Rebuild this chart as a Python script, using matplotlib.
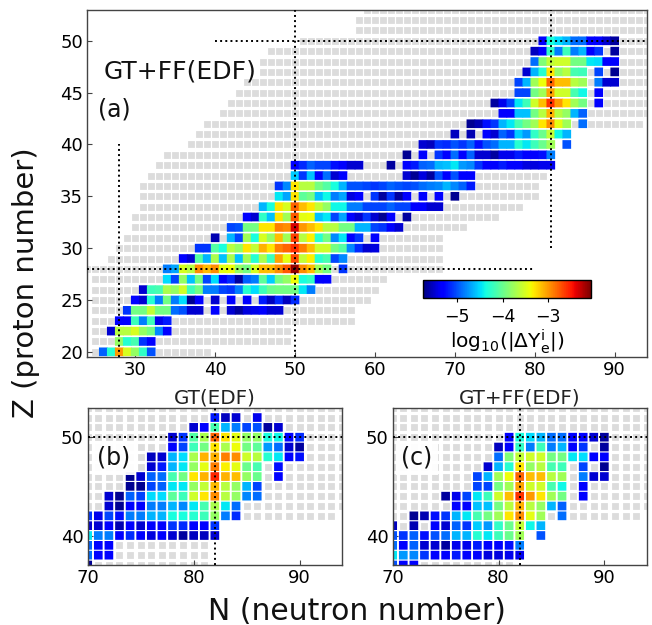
import numpy as np
import matplotlib
matplotlib.use("Agg")
import matplotlib.pyplot as plt

nan = np.nan
W, H = 652, 625

# gray background nuclei: Z, first N, last N
GRAY_Z = list(range(20, 54))
GRAY_NMIN = [25, 25, 25, 25, 25, 25, 25, 25, 24, 27, 28, 29, 30, 30, 31, 31, 31, 32, 33, 34,
             37, 38, 39, 41, 42, 43, 44, 46, 46, 47, 51, 58, 58, 59]
GRAY_NMAX = [39, 49, 49, 57, 57, 59, 60, 61, 68, 68, 68, 68, 71, 75, 78, 80, 80, 81, 81, 81,
             82, 82, 93, 94, 94, 94, 94, 94, 94, 94, 94, 94, 94, 94]

# log10(|dYe|) per Z row, first value belongs to the listed N
EDF_Z = list(range(20, 51))
EDF_NSTART = [26, 28, 27, 28, 29, 30, 31, 34, 34, 36, 38, 40, 42, 44, 46, 48, 48, 50, 50, 64,
              66, 70, 72, 76, 75, 78, 78, 79, 80, 80, 81]
EDF_LOG = [
    [-4.95, -4.3, -3.0, -3.5, -3.8, -4.25, -5.0],
    [-3.8, -4.3, -4.15, -5.1, -5.3],
    [-5.5, -3.65, -3.65, -3.5, -3.8, -3.95, -4.8, -5.3],
    [-5.3, -5.3, -4.2, -4.85, -4.2, -5.4, -5.2],
    [-5.1, -3.95, -3.95, -3.6, -3.95, -3.95, -4.9, -5.0, -5.5, -5.5, nan, -5.3, nan, -5.5, -5.65, -5.45, -5.4, -5.3, -5.5, -5.5],
    [-5.3, -5.5, -4.3, -4.85, -3.95, -4.85, -4.5, -5.7, -5.3, nan, -5.5, nan, -5.3, nan, -5.3, nan, -5.2, -5.55, -5.15, -5.55, -5.15],
    [-5.5, -4.2, -4.15, -3.7, -3.8, -3.55, -4.2, -3.95, -4.85, -4.85, -5.05, -5.1, -4.85, -4.3, -4.5, -4.2, -4.0, -3.95, -3.95, -3.95, -4.45, -4.85],
    [-4.5, -5.05, -3.8, -4.6, -3.95, -5.05, -4.5, -5.3, -5.15, -5.65, -4.95, -4.85, -4.05, -4.55, -3.95, -3.8, -3.4, -4.35, -4.25, -5.3, -5.3],
    [-4.85, -4.7, -3.5, -3.65, -2.95, -3.15, -2.95, -3.45, -3.4, -3.8, -3.95, -3.5, -3.15, -3.15, -2.95, -2.75, -2.15, -2.95, -3.15, -3.75, -3.95, nan, -5.1],
    [-5.3, -5.5, -4.1, -4.65, -3.7, -4.6, -3.7, -4.6, -3.75, -4.3, -3.7, -4.2, -3.05, -3.45, -2.7, -3.6, -3.35, -4.3, -4.15, -5.05, -4.8],
    [-5.1, -5.1, -4.1, -4.35, -3.65, -3.8, -3.3, -3.6, -3.1, -3.3, -2.9, -2.8, -2.6, -2.9, -3.15, -3.55, -3.55, -3.95, -4.1, -4.8, -5.15, -5.5, -5.45],
    [-5.6, nan, -4.65, -5.05, -3.75, -4.35, -3.5, -3.8, -3.15, -3.75, -2.65, -3.65, -3.35, -4.3, -3.95, -4.8, -4.45, -5.3, -5.1, nan, -5.3],
    [-5.05, -5.0, -3.95, -3.95, -3.3, -3.3, -2.9, -2.95, -2.35, -3.0, -3.15, -3.3, -3.65, -3.65, -3.95, -3.95, -4.65, -4.65, -5.05, -5.1, -5.3, -5.5],
    [-5.3, -5.5, -4.25, -4.6, -3.3, -3.75, -2.75, -3.45, -3.4, -4.6, -4.45, -5.05, -4.7, -5.3, -5.5, -5.1, -5.5, -5.7, -5.3, nan, -5.65],
    [-4.65, -4.35, -3.3, -3.5, -2.8, -3.15, -3.3, -3.6, -3.8, -4.4, -4.4, -4.85, -4.85, -5.05, -5.05, -5.05, -4.95, -5.05, -5.05, -5.3, -5.3, -5.5, -5.5],
    [-4.45, -4.7, -3.3, -4.05, -3.95, -4.6, -4.4, -4.85, -4.7, -5.45, -5.3, nan, -5.1, -5.65, -5.1, -5.65, -5.35, nan, -5.3, nan, -5.3, nan, -5.7],
    [-5.1, -4.8, -3.3, -3.65, -3.65, -3.95, -4.1, -4.35, -4.65, -5.0, -5.0, -5.05, -5.1, -5.05, -4.95, -5.0, -5.05, -5.0, -4.9, -4.85, -4.8, -4.65, -4.8, -4.95, -5.2],
    [-4.55, -5.1, -4.6, -5.3, -4.9, -5.5, -5.3, nan, nan, nan, nan, nan, nan, nan, -5.5, -5.7, -5.45, -5.65, -5.0, -5.3, -5.0, -5.3, -5.3],
    [-5.3, -5.15, -4.95, -5.05, -5.05, -5.25, -5.3, -5.5, -5.5, nan, nan, nan, -5.65, nan, -5.3, -5.2, -4.95, -4.9, -4.65, -4.6, -4.45, -4.75, -4.8, -5.1, -5.3, -5.3, -5.2, -5.3, -5.3, -5.45, -5.45, -5.4, -5.4],
    [-5.7, nan, -5.3, nan, -5.1, -5.3, -4.9, -5.3, -4.95, -5.5, -5.5, -5.65, -5.4, -5.4, -5.2, -5.35, -5.3, -5.25, -4.85],
    [-5.5, -5.55, -5.1, -5.15, -5.0, -5.1, -4.95, -5.25, -5.0, -4.9, -4.65, -4.65, -4.3, -4.45, -4.2, -4.0, -3.75, nan, -5.0],
    [-5.55, nan, -5.6, nan, -5.3, -5.5, -4.95, -5.1, -4.55, -4.75, -4.25, -4.0, -3.6, -4.4, -4.65],
    [-5.7, -5.6, -5.25, -5.1, -4.65, -4.45, -4.15, -3.95, -3.75, -3.3, -2.95, -3.45, -3.75, nan, -4.9],
    [-5.3, -5.3, -4.6, -4.6, -3.95, -3.65, -3.1, -3.65, -3.8, -4.65, -4.95],
    [-5.65, -5.4, -5.05, -4.45, -4.2, -3.55, -3.15, -2.6, -3.0, -3.3, -3.75, -3.95, nan, -5.3],
    [-5.05, -5.05, -3.95, -3.75, -3.05, -3.55, -3.55, -4.15, -4.4, nan, -5.3],
    [-5.05, -4.65, -3.75, -3.4, -2.8, -3.15, -3.15, -3.65, -3.75, nan, -4.85, -5.5, -5.5],
    [-5.5, -4.65, -4.3, -3.3, -3.8, -3.65, -4.15, -4.2, nan, -5.05, nan, -5.7],
    [-4.9, -3.9, -3.6, -3.55, -3.55, -3.95, -3.95, -4.45, -4.5, -5.3, -5.3],
    [-5.55, -5.3, -4.25, -4.85, -4.2, -4.85, -4.65, -5.3, -5.1, nan, -5.65],
    [-5.3, -4.35, -4.5, -4.65, -4.9, -4.9, -5.3, -5.35, -5.5, -5.65],
]

GT_Z = list(range(37, 53))
GT_NSTART = [70, 70, 70, 70, 70, 70, 72, 72, 74, 74, 76, 76, 78, 78, 80, 82]
GT_LOG = [
    [-5.7],
    [-4.9, -5.3, -5.3],
    [-4.95, -5.3, -5.3],
    [-4.45, -4.85, -4.85, -5.3, -5.15, -5.3, -5.45, -5.3, -5.5, -5.65, -5.55, -5.55, -5.5],
    [-5.5, -5.5, -5.3, -5.6, -5.3, -5.5, -5.3, -5.3, -5.1, -5.15, -5.3, -5.3, -5.1],
    [-5.1, -5.4, -5.05, -5.25, -4.85, -4.85, -4.65, -4.65, -4.35, -4.35, -4.3, -4.2, -3.8, -4.85, -5.15],
    [-5.5, -5.7, -5.3, -5.3, -4.85, -4.85, -4.65, -4.8, -4.45, -4.15, -3.7, -4.45, -4.9],
    [-5.5, -5.7, -4.95, -5.05, -4.5, -4.5, -4.05, -4.2, -3.55, -3.3, -2.95, -3.65, -3.8, -4.8, -4.9],
    [-5.7, -5.7, -5.05, -4.95, -4.45, -4.45, -3.8, -3.6, -3.15, -3.65, -3.8, -4.65, -5.05],
    [-5.7, -5.5, -4.95, -4.9, -4.15, -3.95, -3.3, -3.1, -2.55, -3.1, -3.15, -3.8, -4.0, nan, -5.35],
    [-5.5, -5.2, -4.65, -4.45, -3.8, -3.45, -2.9, -3.35, -3.45, -4.0, -4.15, nan, -5.25],
    [-5.55, -5.5, -4.65, -4.5, -3.7, -3.1, -3.1, -2.9, -2.95, -3.55, -3.65, -4.3, -4.45, -5.35, -5.25],
    [-5.3, -5.05, -4.2, -3.95, -3.3, -3.7, -3.4, -3.95, -4.05, -4.75, -4.9, -5.5, -5.65],
    [-5.5, -5.1, -4.1, -3.7, -2.8, -3.3, -3.45, -3.8, -3.8, -4.35, -4.4, -5.3, -5.15],
    [-5.5, -5.3, -4.15, -4.65, -4.85, -5.05, -5.0, -5.65, -5.5],
    [-5.2, -5.55, -5.5, nan, -5.4],
]

VMIN, VMAX = -5.76, -2.07
LINE = "#444444"


def px_axes(fig, left, top, right, bottom):
    return fig.add_axes([left / W, 1 - bottom / H, (right - left) / W, (bottom - top) / H])


def flatten(zs, starts, rows):
    n, z, v = [], [], []
    for zz, st, row in zip(zs, starts, rows):
        for i, val in enumerate(row):
            if not np.isnan(val):
                n.append(st + i)
                z.append(zz)
                v.append(val)
    return n, z, v


def draw_cells(ax, zs, starts, rows):
    gn, gz = [], []
    for zz, lo, hi in zip(GRAY_Z, GRAY_NMIN, GRAY_NMAX):
        for nn in range(lo, hi + 1):
            gn.append(nn)
            gz.append(zz)
    gray = ax.scatter(gn, gz, s=24, marker="s", color="#dcdcdc", linewidths=0, zorder=1)
    gray.set_snap(False)
    n, z, v = flatten(zs, starts, rows)
    cells = ax.scatter(n, z, c=v, s=39, marker="s", cmap="jet", vmin=VMIN, vmax=VMAX, linewidths=0, zorder=2)
    cells.set_snap(False)
    return cells


def style(ax):
    ax.tick_params(direction="in", length=3.5, width=0.8, color=LINE, labelsize=13, pad=3)
    for spine in ax.spines.values():
        spine.set_edgecolor(LINE)
        spine.set_linewidth(1.0)


plt.rcParams["font.family"] = "DejaVu Sans"
fig = plt.figure(figsize=(W / 100, H / 100), dpi=100)

# panel (a)
ax_a = px_axes(fig, 87.3, 9.7, 646.7, 357)
sc = draw_cells(ax_a, EDF_Z, EDF_NSTART, EDF_LOG)
ax_a.set_xlim(24, 94)
ax_a.set_ylim(19.5, 53)
ax_a.set_xticks([30, 40, 50, 60, 70, 80, 90])
ax_a.set_yticks([20, 25, 30, 35, 40, 45, 50])
style(ax_a)
dots = dict(color="k", linestyle=":", linewidth=1.4, zorder=3)
ax_a.plot([50, 50], [19.5, 53], **dots)
ax_a.plot([40, 94], [50, 50], **dots)
ax_a.plot([82, 82], [30, 53], **dots)
ax_a.plot([24, 80], [28, 28], **dots)
ax_a.plot([28, 28], [19.5, 40], **dots)

# panels (b), (c)
ax_b = px_axes(fig, 87.7, 407.7, 342, 565)
draw_cells(ax_b, GT_Z, GT_NSTART, GT_LOG)
ax_c = px_axes(fig, 392.7, 407.7, 646.7, 565)
draw_cells(ax_c, EDF_Z, EDF_NSTART, EDF_LOG)
for ax in (ax_b, ax_c):
    ax.set_xlim(70, 94)
    ax.set_ylim(37, 53)
    ax.set_xticks([70, 80, 90])
    ax.set_yticks([40, 50])
    style(ax)
    ax.plot([82, 82], [37, 53], **dots)
    ax.plot([70, 94], [50, 50], **dots)
ax_b.set_title("GT(EDF)", fontsize=14.3, pad=3, color="#222222")
ax_c.set_title("GT+FF(EDF)", fontsize=14.3, pad=3, color="#222222")

# colorbar
cax = px_axes(fig, 422.7, 280, 590.7, 298.3)
cb = fig.colorbar(sc, cax=cax, orientation="horizontal")
cb.set_ticks([-5, -4, -3])
cb.ax.tick_params(direction="out", length=3, width=0.8, labelsize=12.5, pad=4)
cb.outline.set_linewidth(1.0)
cb.set_label(r"$\mathrm{log}_{10}(|\Delta\mathrm{Y}_{\mathrm{e}}^{\mathrm{i}}|)$", fontsize=14.5, labelpad=1)

# labels
box = dict(facecolor="white", edgecolor="none", pad=3.5, alpha=0.95)
fig.text(180 / W, 1 - 71 / H, "GT+FF(EDF)", fontsize=18, ha="center", va="center", color="#111111")
fig.text(114 / W, 1 - 110 / H, "(a)", fontsize=17, ha="center", va="center", color="#111111")
fig.text(114 / W, 1 - 458 / H, "(b)", fontsize=17, ha="center", va="center", color="#111111", bbox=box)
fig.text(417 / W, 1 - 458 / H, "(c)", fontsize=17, ha="center", va="center", color="#111111", bbox=box)
fig.text(357 / W, 1 - 611 / H, "N (neutron number)", fontsize=21.5, ha="center", va="center", color="#111111")
fig.text(26 / W, 1 - 283 / H, "Z (proton number)", fontsize=21, rotation=90, ha="center", va="center", color="#111111")

fig.savefig("out.png", dpi=100)
